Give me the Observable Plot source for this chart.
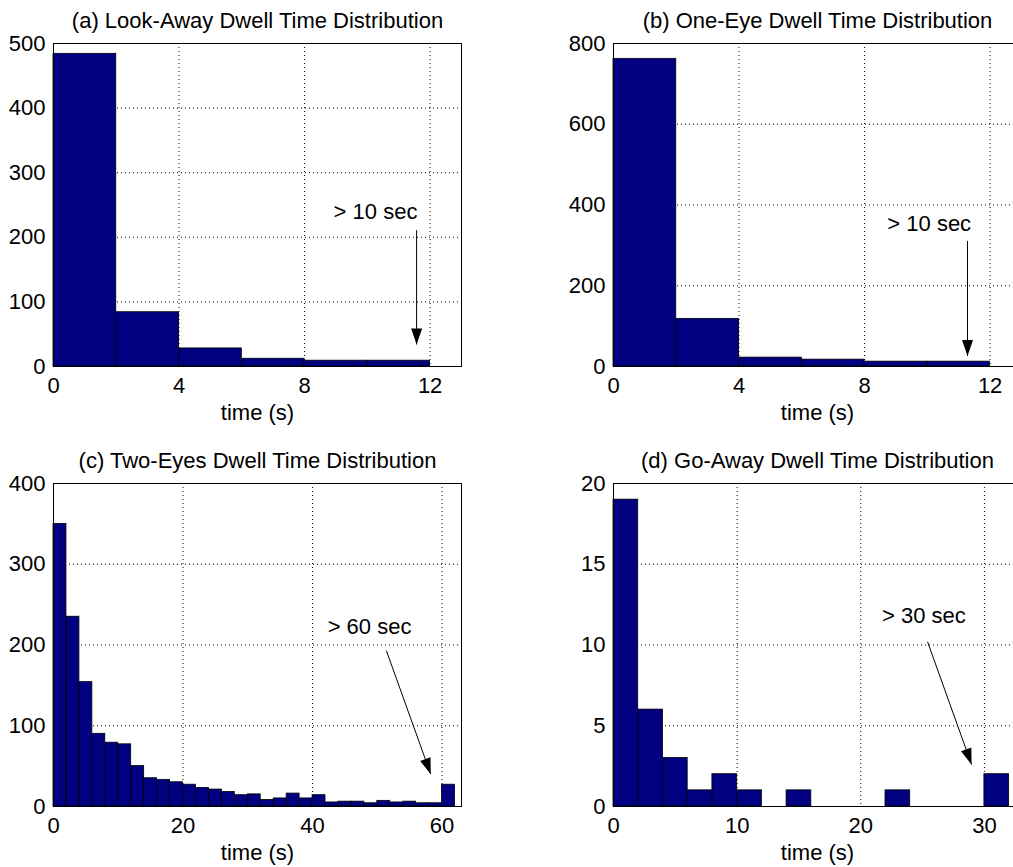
<!DOCTYPE html>
<html>
<head>
<meta charset="utf-8">
<script src="https://cdn.jsdelivr.net/npm/d3@7"></script>
<script src="https://cdn.jsdelivr.net/npm/@observablehq/plot@0.6"></script>
<style>
  html, body { margin: 0; padding: 0; background: #fff; overflow: hidden; width: 1013px; height: 867px; }
  .panel { position: absolute; width: 473px; height: 426px; }
  .panel svg { max-width: none !important; display: block; }
</style>
</head>
<body>
<div id="pa" class="panel" style="left:0px; top:0px"></div>
<div id="pb" class="panel" style="left:560px; top:0px"></div>
<div id="pc" class="panel" style="left:0px; top:440px"></div>
<div id="pd" class="panel" style="left:560px; top:440px"></div>
<script>
// Histogram counts, 2-second bins starting at 0 (last bin = overflow bin)
const binWidth = 2;
const lookAwayCounts = [484, 84, 28, 12, 9, 9];
const oneEyeCounts = [762, 118, 22, 17, 12, 12];
const twoEyesCounts = [350, 235, 154, 90, 79, 77, 50, 35, 33, 30, 27, 23, 21, 18, 14, 15,
                       8, 10, 16, 10, 14, 5, 6, 6, 4, 7, 5, 6, 4, 4, 27];
const goAwayCounts = [19, 6, 3, 1, 2, 1, 0, 1, 0, 0, 0, 1, 0, 0, 0, 2];

// Tick labels
const ticksXA = [0, 4, 8, 12];
const ticksYA = [0, 100, 200, 300, 400, 500];
const ticksXB = [0, 4, 8, 12];
const ticksYB = [0, 200, 400, 600, 800];
const ticksXC = [0, 20, 40, 60];
const ticksYC = [0, 100, 200, 300, 400];
const ticksXD = [0, 10, 20, 30];
const ticksYD = [0, 5, 10, 15, 20];

// Titles and overflow annotations
const titles = [
  "(a) Look-Away Dwell Time Distribution",
  "(b) One-Eye Dwell Time Distribution",
  "(c) Two-Eyes Dwell Time Distribution",
  "(d) Go-Away Dwell Time Distribution"
];
const notes = [
  {text: "> 10 sec", x: 10.26, y: 240},
  {text: "> 10 sec", x: 10.06, y: 354},
  {text: "> 60 sec", x: 48.8, y: 222},
  {text: "> 30 sec", x: 25.1, y: 11.8}
];
const arrows = [
  {x1: 11.57, y1: 211, x2: 11.57, y2: 34},
  {x1: 11.28, y1: 311, x2: 11.28, y2: 26},
  {x1: 51.4, y1: 193, x2: 58.25, y2: 40},
  {x1: 25.4, y1: 10.2, x2: 28.96, y2: 2.6}
];

const fontFamily = "'Liberation Sans', Arial, Helvetica, sans-serif";

// Filled, slightly elongated arrowhead; tip at the origin, pointing down
const arrowHead = {
  draw(context) {
    context.moveTo(0, 0);
    context.lineTo(-5.5, -16);
    context.lineTo(5.5, -16);
    context.closePath();
  }
};

function panel({counts, xDomain, yDomain, xTicks, yTicks, title, note, arrow}) {
  const W = 473, H = 426, mL = 53, mR = 12, mT = 43, mB = 60;
  const bins = counts
    .map((n, i) => ({x1: i * binWidth, x2: (i + 1) * binWidth, n}))
    .filter(d => d.n > 0);
  // orientation of the arrowhead in screen space
  const sx = d3.scaleLinear(xDomain, [mL, W - mR]);
  const sy = d3.scaleLinear(yDomain, [H - mB, mT]);
  const angle = Math.atan2(-(sx(arrow.x2) - sx(arrow.x1)), sy(arrow.y2) - sy(arrow.y1)) * 180 / Math.PI;
  const dotted = {stroke: "black", strokeOpacity: 1, strokeWidth: 1, strokeDasharray: "1,3"};
  return Plot.plot({
    width: W, height: H,
    marginLeft: mL, marginRight: mR, marginTop: mT, marginBottom: mB,
    x: {domain: xDomain},
    y: {domain: yDomain},
    style: {fontFamily, fontSize: "22px", background: "white", overflow: "visible", color: "black"},
    marks: [
      Plot.gridX(xTicks.filter(t => t > xDomain[0] && t < xDomain[1]), dotted),
      Plot.gridY(yTicks.filter(t => t > yDomain[0] && t < yDomain[1]), dotted),
      Plot.rectY(bins, {x1: "x1", x2: "x2", y: "n", fill: "#000080", stroke: "black", strokeWidth: 0.8}),
      Plot.frame({stroke: "black", strokeWidth: 1}),
      Plot.axisX(xTicks, {tickSize: 0, tickPadding: 11, label: null, fontSize: 22}),
      Plot.axisY(yTicks, {tickSize: 0, tickPadding: 8, label: null, fontSize: 22}),
      Plot.text([title], {frameAnchor: "top", lineAnchor: "middle", dy: -23, text: d => d, fontSize: 22}),
      Plot.text(["time (s)"], {frameAnchor: "bottom", lineAnchor: "middle", dy: 46, text: d => d, fontSize: 22}),
      Plot.text([note], {x: "x", y: "y", text: "text", fontSize: 22}),
      Plot.link([arrow], {x1: "x1", y1: "y1", x2: "x2", y2: "y2", stroke: "black", strokeWidth: 1}),
      Plot.dot([arrow], {x: "x2", y: "y2", symbol: arrowHead, rotate: angle, fill: "black", stroke: "none", r: 5})
    ]
  });
}

document.getElementById("pa").append(panel({
  counts: lookAwayCounts, xDomain: [0, 13], yDomain: [0, 500],
  xTicks: ticksXA, yTicks: ticksYA, title: titles[0], note: notes[0], arrow: arrows[0]
}));
document.getElementById("pb").append(panel({
  counts: oneEyeCounts, xDomain: [0, 13], yDomain: [0, 800],
  xTicks: ticksXB, yTicks: ticksYB, title: titles[1], note: notes[1], arrow: arrows[1]
}));
document.getElementById("pc").append(panel({
  counts: twoEyesCounts, xDomain: [0, 63], yDomain: [0, 400],
  xTicks: ticksXC, yTicks: ticksYC, title: titles[2], note: notes[2], arrow: arrows[2]
}));
document.getElementById("pd").append(panel({
  counts: goAwayCounts, xDomain: [0, 33], yDomain: [0, 20],
  xTicks: ticksXD, yTicks: ticksYD, title: titles[3], note: notes[3], arrow: arrows[3]
}));
</script>
</body>
</html>
